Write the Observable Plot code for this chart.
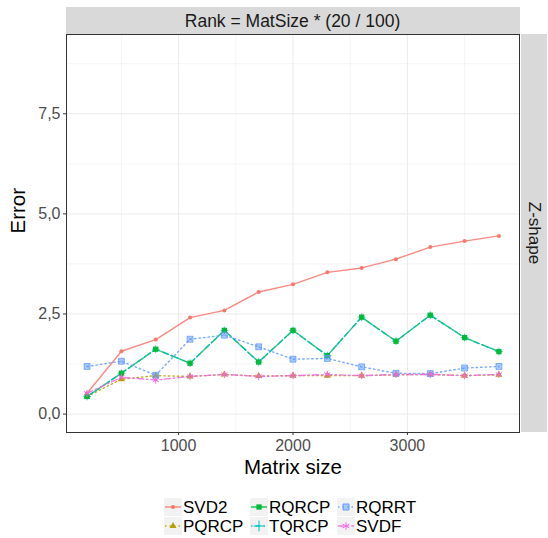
<!DOCTYPE html>
<html><head><meta charset="utf-8">
<script src="https://cdn.jsdelivr.net/npm/d3@7"></script>
<script src="https://cdn.jsdelivr.net/npm/@observablehq/plot@0.6"></script>
<style>
body{margin:0;background:#fff;}
svg{font-family:"Liberation Sans",Arial,sans-serif;}
</style>
</head><body><div id="chart"></div>
<script>
// ---- data ----
const sizes = [200, 500, 800, 1100, 1400, 1700, 2000, 2300, 2600, 2900, 3200, 3500, 3800];
const svd2  = [0.52, 1.57, 1.86, 2.41, 2.59, 3.05, 3.24, 3.54, 3.65, 3.87, 4.17, 4.32, 4.45];
const pqrcp = [0.44, 0.87, 0.96, 0.94, 0.99, 0.95, 0.96, 0.96, 0.96, 0.98, 0.99, 0.96, 0.98];
const rqrcp = [0.44, 1.02, 1.62, 1.27, 2.09, 1.30, 2.09, 1.46, 2.42, 1.82, 2.47, 1.91, 1.56];
const tqrcp = [0.44, 1.02, 1.62, 1.27, 2.09, 1.30, 2.09, 1.46, 2.42, 1.82, 2.47, 1.91, 1.56];
const rqrrt = [1.19, 1.32, 0.97, 1.87, 1.97, 1.68, 1.37, 1.39, 1.18, 1.02, 1.01, 1.15, 1.19];
const svdf  = [0.52, 0.92, 0.85, 0.94, 0.99, 0.94, 0.96, 0.99, 0.96, 0.99, 0.99, 0.96, 0.99];
const methods = ["SVD2", "PQRCP", "RQRCP", "TQRCP", "RQRRT", "SVDF"];
const legendOrder = ["SVD2", "RQRCP", "RQRRT", "PQRCP", "TQRCP", "SVDF"];
const yTicks = [0, 2.5, 5, 7.5];
const xTicks = [1000, 2000, 3000];
const yMinor = [1.25, 3.75, 6.25, 8.75];
const xMinor = [500, 1500, 2500, 3500];
const stripTop = "Rank = MatSize * (20 / 100)";
const stripRight = "Z-shape";
const xTitle = "Matrix size";
const yTitle = "Error";

// ---- styles ----
const colors = ["#F8766D", "#B79F00", "#00BA38", "#00BFC4", "#619CFF", "#F564E3"];
const dashes = [null, "1.5,3", "7,3", "1.5,3,5,3", "1.5,3", "6,3,1.5,3"];
const series = {SVD2: svd2, PQRCP: pqrcp, RQRCP: rqrcp, TQRCP: tqrcp, RQRRT: rqrrt, SVDF: svdf};
const rows = methods.flatMap(m => sizes.map((s, i) => ({method: m, size: s, error: series[m][i]})));
const byM = m => rows.filter(d => d.method === m);
const col = m => colors[methods.indexOf(m)];

const W = 548, H = 538, L = 66, R = 519, T = 34, B = 432;
const fmt = d => d.toFixed(1).replace(".", ",");

function pointMarks(m) {
  const c = col(m), data = byM(m), o = {x: "size", y: "error"};
  switch (m) {
    case "SVD2": return [Plot.dot(data, {...o, symbol: "circle", r: 2, fill: c, stroke: "none"})];
    case "PQRCP": return [Plot.dot(data, {...o, symbol: "triangle", r: 2.6, fill: c, stroke: "none"})];
    case "RQRCP": return [Plot.dot(data, {...o, symbol: "square", r: 3, fill: c, stroke: "none"})];
    case "TQRCP": return [Plot.dot(data, {...o, symbol: "plus", r: 2.6, fill: "none", stroke: c, strokeWidth: 0.8})];
    case "RQRRT": return [
      Plot.dot(data, {...o, symbol: "square", r: 3.3, fill: c, fillOpacity: 0.45, stroke: c, strokeOpacity: 0.8, strokeWidth: 1}),
      Plot.dot(data, {...o, symbol: "times", r: 2.6, fill: "none", stroke: c, strokeOpacity: 0.7, strokeWidth: 0.7})];
    case "SVDF": return [Plot.dot(data, {...o, symbol: "asterisk", r: 3.3, fill: "none", stroke: c, strokeWidth: 1})];
  }
}
const pointOrder = ["SVD2", "PQRCP", "TQRCP", "RQRCP", "RQRRT", "SVDF"];

const plot = Plot.plot({
  width: W, height: H,
  marginLeft: L, marginRight: W - R, marginTop: T, marginBottom: H - B,
  x: {domain: [20, 3980]},
  y: {domain: [-0.46, 9.48]},
  style: {fontFamily: "'Liberation Sans', Arial, sans-serif", background: "white", overflow: "visible"},
  marks: [
    Plot.gridY({ticks: yMinor, stroke: "#EBEBEB", strokeOpacity: 1, strokeWidth: 0.5}),
    Plot.gridX({ticks: xMinor, stroke: "#EBEBEB", strokeOpacity: 1, strokeWidth: 0.5}),
    Plot.gridY({ticks: yTicks, stroke: "#EBEBEB", strokeOpacity: 1, strokeWidth: 1}),
    Plot.gridX({ticks: xTicks, stroke: "#EBEBEB", strokeOpacity: 1, strokeWidth: 1}),
    ...methods.map(m => Plot.line(byM(m), {x: "size", y: "error", stroke: col(m), strokeWidth: 1.4,
        strokeOpacity: 0.85, strokeDasharray: dashes[methods.indexOf(m)]})),
    ...pointOrder.flatMap(pointMarks),
    Plot.frame({stroke: "#333333", strokeWidth: 1}),
    Plot.axisY({ticks: yTicks, tickSize: 3, tickPadding: 3, tickFormat: fmt, fontSize: 16,
        stroke: "#333333", fill: "#4D4D4D", label: null}),
    Plot.axisX({ticks: xTicks, tickSize: 3, tickPadding: 4, tickFormat: d => String(d), fontSize: 16,
        stroke: "#333333", fill: "#4D4D4D", label: null}),
    Plot.text([yTitle], {frameAnchor: "left", dx: -48, rotate: -90, fontSize: 20.5, fill: "black"}),
    Plot.text([xTitle], {frameAnchor: "bottom", dy: 41, fontSize: 20.5, fill: "black"})
  ]
});
document.getElementById("chart").appendChild(plot);

// ---- facet strips and legend ----
const svg = d3.select(plot);
const first = plot.firstChild;
const strips = svg.insert("g", () => first.nextSibling);
strips.append("rect").attr("x", L).attr("y", 7).attr("width", R - L + 1).attr("height", T - 7).attr("fill", "#D9D9D9");
strips.append("rect").attr("x", R + 2).attr("y", T).attr("width", 26).attr("height", B - T).attr("fill", "#D9D9D9");
svg.append("text").text(stripTop).attr("x", (L + R) / 2).attr("y", 21).attr("text-anchor", "middle")
  .attr("dominant-baseline", "central").attr("font-size", 17.5).attr("fill", "#1A1A1A");
svg.append("text").text(stripRight).attr("transform", `translate(${R + 15},${(T + B) / 2}) rotate(90)`)
  .attr("text-anchor", "middle").attr("dominant-baseline", "central").attr("font-size", 17).attr("fill", "#1A1A1A");

const symMap = {SVD2: [d3.symbolCircle, 14, true], PQRCP: [d3.symbolTriangle, 20, true], RQRCP: [d3.symbolSquare, 28, true],
  TQRCP: [d3.symbolPlus, 40, false], RQRRT: [d3.symbolSquare, 36, true], SVDF: [d3.symbolAsterisk, 40, false]};
const colX = [164, 250, 337], rowY = [507, 526];
const lg = svg.append("g").attr("text-anchor", "start");
legendOrder.forEach((m, k) => {
  const cx = colX[k % 3], cy = rowY[Math.floor(k / 3)];
  const g = lg.append("g").attr("transform", `translate(${cx},${cy})`);
  g.append("rect").attr("x", 0).attr("y", -9).attr("width", 18).attr("height", 18).attr("fill", "#F2F2F2");
  const ln = g.append("line").attr("x1", 1).attr("x2", 17).attr("y1", 0).attr("y2", 0)
    .attr("stroke", col(m)).attr("stroke-width", 1.4).attr("stroke-opacity", 0.85);
  const da = dashes[methods.indexOf(m)];
  if (da) ln.attr("stroke-dasharray", da);
  const [t, s, filled] = symMap[m];
  const p = g.append("path").attr("d", d3.symbol(t, s)()).attr("transform", "translate(9,0)");
  if (filled) p.attr("fill", col(m)).attr("fill-opacity", m === "RQRRT" ? 0.5 : 1).attr("stroke", m === "RQRRT" ? col(m) : "none");
  else p.attr("fill", "none").attr("stroke", col(m)).attr("stroke-width", 1);
  g.append("text").text(m).attr("x", 19).attr("y", 0).attr("dominant-baseline", "central")
    .attr("text-anchor", "start").attr("font-size", 17).attr("fill", "black");
});
</script>
</body></html>
